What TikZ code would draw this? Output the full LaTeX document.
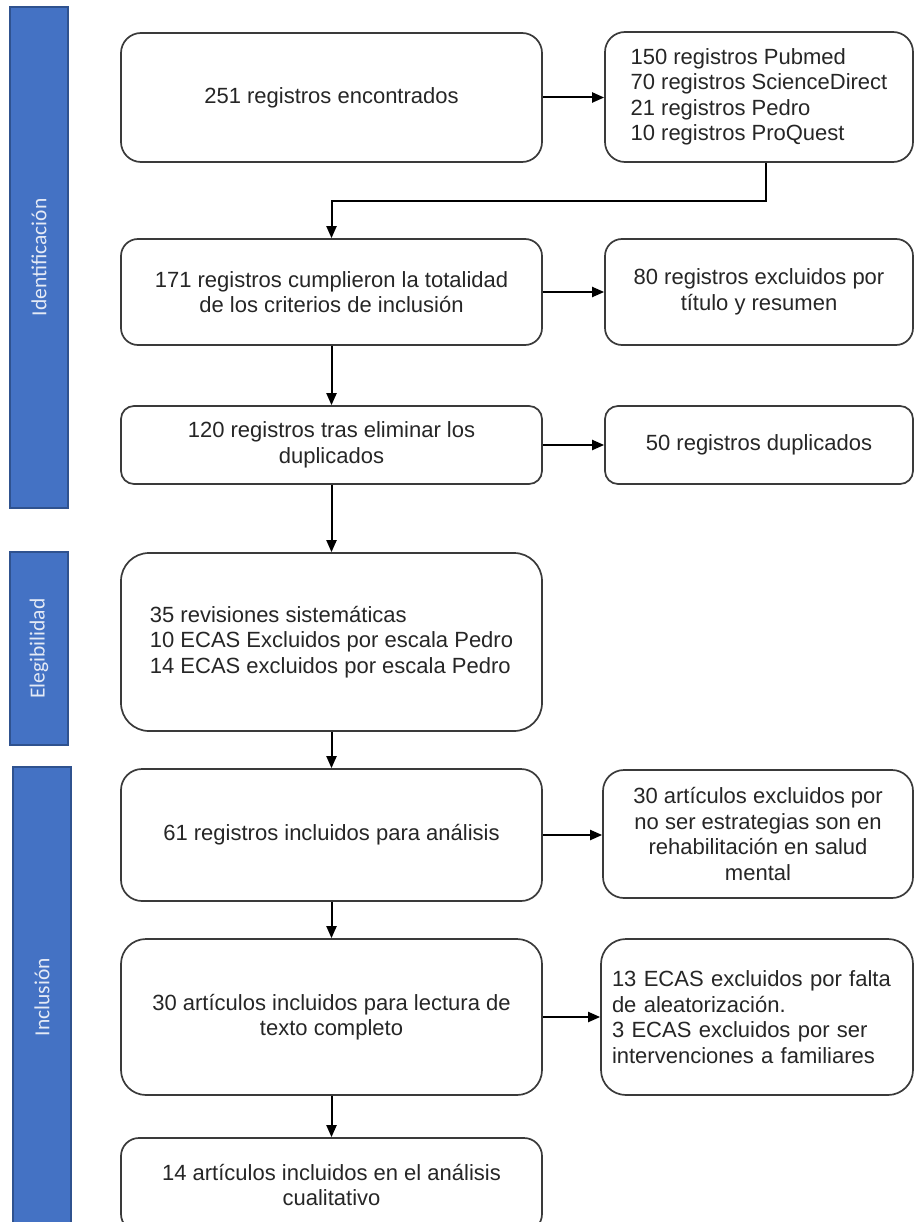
\documentclass[tikz,border=0pt]{standalone}
\usepackage{fontspec}
\setmainfont{Liberation Sans}
\newfontfamily\barfont{Carlito}
\usetikzlibrary{arrows.meta}

\definecolor{barblue}{HTML}{4472C4}
\definecolor{baredge}{HTML}{2F528F}
\definecolor{bartext}{HTML}{E4EAF6}
\definecolor{boxedge}{HTML}{3A3A3A}
\definecolor{boxtext}{HTML}{262626}

\begin{document}
\begin{tikzpicture}[
    x=1pt, y=-1pt,
    box/.style={rectangle, draw=boxedge, line width=1.7pt, rounded corners=#1, align=center, inner sep=0pt, text=boxtext, font=\fontsize{22}{25.5}\selectfont},
    box/.default=18pt,
    phase/.style={rectangle, draw=baredge, line width=2pt, fill=barblue, text=bartext, font=\barfont\fontsize{21.5}{24}\selectfont, rotate=90, inner sep=0pt, minimum height=58pt},
    arrow/.style={-{Triangle[length=12pt, width=10pt]}, line width=2pt, black}
]

\fill[white] (0,0) rectangle (915,1222);
\useasboundingbox (0,0) rectangle (915,1222);

% Phase bars
\node[phase, minimum width=501pt] (ident) at (39, 257.5) {Identificación};
\node[phase, minimum width=193pt] (eleg) at (39, 648.5) {Elegibilidad};
\node[phase, minimum width=460pt] (incl) at (42, 997) {Inclusión};

% Boxes - main column
\node[box=20pt, minimum width=421pt, minimum height=129pt] (found) at (331.5, 97.5) {251 registros encontrados};
\node[box=17pt, minimum width=421pt, minimum height=106pt] (criteria) at (331.5, 292) {171 registros cumplieron la totalidad\\de los criterios de inclusión};
\node[box=13pt, minimum width=421pt, minimum height=78pt] (nodup) at (331.5, 445) {120 registros tras eliminar los\\duplicados};
\node[box=28pt, minimum width=421pt, minimum height=178pt, align=left] (quality) at (331.5, 642) {35 revisiones sistemáticas\\10 ECAS Excluidos por escala Pedro\\14 ECAS excluidos por escala Pedro};
\node[box=21pt, minimum width=421pt, minimum height=132pt] (analysis) at (331.5, 835) {61 registros incluidos para análisis};
\node[box=25pt, minimum width=421pt, minimum height=156pt] (fulltext) at (331.5, 1017) {30 artículos incluidos para lectura de\\texto completo};
\node[box=18pt, minimum width=421pt, minimum height=94pt] (qualit) at (331.5, 1185) {14 artículos incluidos en el análisis\\cualitativo};

% Boxes - right column
\node[box=20pt, minimum width=308pt, minimum height=130pt, align=left] (sources) at (759, 97) {150 registros Pubmed\\70 registros ScienceDirect\\21 registros Pedro\\10 registros ProQuest};
\node[box=17pt, minimum width=308pt, minimum height=106pt] (title) at (759, 292) {80 registros excluidos por\\título y resumen};
\node[box=13pt, minimum width=308pt, minimum height=78pt] (dup) at (759, 445) {50 registros duplicados};
\node[box=21pt, minimum width=310pt, minimum height=128pt] (notrehab) at (758, 834) {30 artículos excluidos por\\no ser estrategias son en\\rehabilitación en salud\\mental};
\node[box=25pt, text width=290pt, inner xsep=11pt, minimum height=156pt, align=left] (random) at (757, 1017) {13 ECAS excluidos por falta\\de aleatorización.\\3 ECAS excluidos por ser\\intervenciones a familiares};

% Connections
\draw[arrow] (found.east) -- (found.east -| sources.west);
\draw[arrow] ([xshift=7pt]sources.south) -- ++(0,38) -| (criteria.north);
\draw[arrow] (criteria) -- (title);
\draw[arrow] (criteria) -- (nodup);
\draw[arrow] (nodup) -- (dup);
\draw[arrow] (nodup) -- (quality);
\draw[arrow] (quality) -- (analysis);
\draw[arrow] (analysis.east) -- (analysis.east -| notrehab.west);
\draw[arrow] (analysis) -- (fulltext);
\draw[arrow] (fulltext) -- (random);
\draw[arrow] (fulltext) -- (qualit);

\end{tikzpicture}
\end{document}
